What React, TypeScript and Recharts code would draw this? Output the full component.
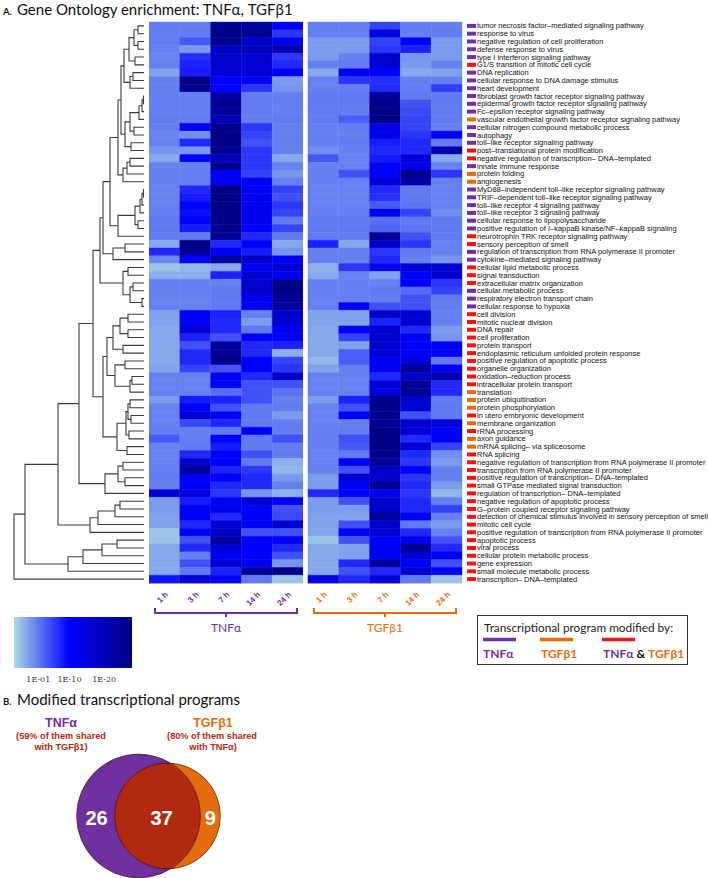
import React from 'react';
import { BarChart, Bar, Cell, XAxis, YAxis, LineChart, Line, ScatterChart, Scatter } from 'recharts';

// Colours
const PURPLE = '#7030a0';
const ORANGE = '#e46c0a';
const RED = '#f01414';
const LENS = '#b32a12';
const SANS = '"Liberation Sans", Arial, sans-serif';
const TITLE_FONT = 'Lato, "Open Sans", sans-serif';

// ---- data ----
const treatments = ['TNFα', 'TGFβ1'];
const timePoints = ['1 h', '3 h', '7 h', '14 h', '24 h'];

const goTerms = [
  'tumor necrosis factor–mediated signaling pathway',
  'response to virus',
  'negative regulation of cell proliferation',
  'defense response to virus',
  'type I interferon signaling pathway',
  'G1/S transition of mitotic cell cycle',
  'DNA replication',
  'cellular response to DNA damage stimulus',
  'heart development',
  'fibroblast growth factor receptor signaling pathway',
  'epidermal growth factor receptor signaling pathway',
  'Fc–epsilon receptor signaling pathway',
  'vascular endothelial growth factor receptor signaling pathway',
  'cellular nitrogen compound metabolic process',
  'autophagy',
  'toll–like receptor signaling pathway',
  'post–translational protein modification',
  'negative regulation of transcription– DNA–templated',
  'innate immune response',
  'protein folding',
  'angiogenesis',
  'MyD88–independent toll–like receptor signaling pathway',
  'TRIF–dependent toll–like receptor signaling pathway',
  'toll–like receptor 4 signaling pathway',
  'toll–like receptor 3 signaling pathway',
  'cellular response to lipopolysaccharide',
  'positive regulation of I–kappaB kinase/NF–kappaB signaling',
  'neurotrophin TRK receptor signaling pathway',
  'sensory perception of smell',
  'regulation of transcription from RNA polymerase II promoter',
  'cytokine–mediated signaling pathway',
  'cellular lipid metabolic process',
  'signal transduction',
  'extracellular matrix organization',
  'cellular metabolic process',
  'respiratory electron transport chain',
  'cellular response to hypoxia',
  'cell division',
  'mitotic nuclear division',
  'DNA repair',
  'cell proliferation',
  'protein transport',
  'endoplasmic reticulum unfolded protein response',
  'positive regulation of apoptotic process',
  'organelle organization',
  'oxidation–reduction process',
  'intracellular protein transport',
  'translation',
  'protein ubiquitination',
  'protein phosphorylation',
  'in utero embryonic development',
  'membrane organization',
  'rRNA processing',
  'axon guidance',
  'mRNA splicing– via spliceosome',
  'RNA splicing',
  'negative regulation of transcription from RNA polymerase II promoter',
  'transcription from RNA polymerase II promoter',
  'positive regulation of transcription– DNA–templated',
  'small GTPase mediated signal transduction',
  'regulation of transcription– DNA–templated',
  'negative regulation of apoptotic process',
  'G–protein coupled receptor signaling pathway',
  'detection of chemical stimulus involved in sensory perception of smell',
  'mitotic cell cycle',
  'positive regulation of transcription from RNA polymerase II promoter',
  'apoptotic process',
  'viral process',
  'cellular protein metabolic process',
  'gene expression',
  'small molecule metabolic process',
  'transcription– DNA–templated',
];

// T = modified by TNFα only, G = TGFβ1 only, B = both
const termProgram = [
  'TTTTTBTTTT', 'TTGTTTBBTG', 'GTTTTTTBBT', 'TBBBTTTBBB',
  'BBBBBBBGGG', 'BGBGGBBBBB', 'BBBBBBBBBB', 'BB',
].join('').split('');

// enrichment score (-log10 p), one row per GO term, columns = time points
const tnfScores = [
  [0.8, 0.6, 25, 24, 10], [0.6, 0.8, 26, 25, 6], [0.8, 3.5, 26, 18, 12], [0.6, -1.5, 18, 20, 22],
  [0.3, 6.5, 18, 17, 6], [0.5, 7.5, 17, 16, 7], [-2, 8, 16, 16, 11], [0.5, 27, 11, 11, -1.5],
  [0.6, 26, 10, 6, -1], [0.6, 0.6, 23, 0.8, 0.6], [0.6, 0.6, 25, 0.8, 0.6], [0.6, 0.6, 24, 0.8, 0.6],
  [0.8, 0.8, 20, 0.8, 0.8], [0.5, 11, 26, 6, 0.5], [0.3, -0.5, 27, 5, 0.5], [0.5, 7, 27, 4, 0.5],
  [-1, -1, 25, 6, 0.5], [-2.5, 11, 20, 6, -2.5], [0.5, 0.5, 26, 6, 0.5], [0.5, 0.5, 11, 5, -1],
  [0.5, 0.5, 12, 11, 0.5], [0.5, 7, 27, 11, 5], [0.5, 8, 27, 12, 4], [0.5, 10, 27, 12, 6],
  [0.5, 9, 27, 12, 5], [1, 10, 27, 12, 1], [1, 8, 26, 11, 5], [0.8, 1, 26, 7, 1],
  [-2.5, 27, 7, 10, -2.5], [7, 25, 11, 8, -1], [0, 11, 24, 18, 11], [-4.5, -3.5, -2.5, 11, 16],
  [-3, -3, 7.5, 16, 11], [0.5, 0.5, 0.5, 17, 26], [0.5, 0.5, 1, 17, 27], [0.5, 0.5, 1, 12, 25],
  [0.5, 0.5, 1, 11, 24], [-2, 11, 7.5, 0.5, 17], [-2, 11, 7, -1.5, 17], [-2.5, 16, 7, 1, 11],
  [-2.5, 7.5, 4, 11, 11], [-2.5, 4, 24, 7, 7.5], [-2.5, 7, 25, 7, -3], [-2.5, 7, 26, 10, 5],
  [-2, 5, 4, 11, 6], [0.5, 0.5, 12, 7, 18], [0.5, 0.5, 11, 4, 4], [0.5, 0.5, 2, 4, 1.5],
  [-1.5, 8, 7.5, 4, 0.5], [0.5, 11, 4, 1, 0.8], [0.5, 16, 11, 1, -1.5], [0.5, 4.5, 7, 1, 0.8],
  [0.8, 0.5, 1, 11, 0.8], [3.5, 0.5, 11, 1, 4], [0.5, 1, 8, 1, 0.8], [0.5, 7, 10, 4, 1],
  [0.5, 17, 11, 1, -3], [0.5, 24, 7.5, 6, -3.5], [0.8, 11, 11, 7, -1.5], [0.5, 11, 7, 7, 0.5],
  [16, 15, 6, -1, -3], [-1.5, 8, 11, 17, 11], [-1.5, 11, 12, 11, 4], [-2, 11, 7, 11, 4.5],
  [-2, 7, 16, 11, 16], [-4.5, 11, 17, 4, 4], [-4.5, 4, 23, 11, 11], [-2.5, 7, 17, 11, 7],
  [-2.5, 0.5, 11, 11, 4], [-2.5, 4, 17, 11, -1], [-2.5, 1, 7.5, 25, 27], [8.5, 16, 11, 1, -4.5],
];

const tgfScores = [
  [0.7, 0.5, 5, 0.8, 0.6], [0.6, 0.6, 14, 0.7, 0.8], [-1.5, -1.5, 5, 11, -1.5], [-1.5, -1.5, 6, 7.5, -1.5],
  [-1.5, 0.5, 17, -1, -1.5], [0.5, 0.8, 16, -1.5, 0.5], [-2.5, 11, 10, -2.5, -2], [0.5, 6, 6.5, 0.5, 0.5],
  [0.5, 0.6, 7, 0.6, 5.5], [1, 1, 24, 1, 1], [1, 1, 26, 4, 1], [0.8, 0.8, 27, 4.5, 0.8],
  [0.8, 3, 28, 5, 0.8], [0.5, 0.8, 12, 5, 0.5], [0.5, 0.5, 14, 6, 12], [0.5, 0.8, 8, 7, 0.8],
  [-0.5, 0.5, 7, 7, 22], [3.5, 0.5, 8, 16, -2.5], [0.5, 0.5, 11, 12, 0.5], [0.5, 4, 10, 26, 6],
  [0.5, 0.5, 16, 22, 0.5], [0.5, 0.5, 7, 1, 0.5], [0.5, 0.5, 6.5, 1, 0.5], [0.5, 0.5, 3.5, 1.5, 0.5],
  [0.5, 0.5, 11, 5, -0.5], [1, 1, 2, 1, 1], [1, 1, 2.5, 1.5, 1], [0.8, 0.8, 25, 4, 0.8],
  [7.5, -2.5, 18, 6, 0.5], [0.5, 0.5, 6, 1, 0.5], [0.5, 0.5, 7, 0.5, -1], [-3, 6, 11, 16, 16],
  [-2.5, 0.5, -2, 11, 17], [0.5, 0.5, 0.5, 10, 6], [0.5, 0.5, 1, 2, 5], [0.5, 0.5, 0.8, 4, 1],
  [0.5, 11, 4, 4, 0.8], [-2, -2, 17, 16, 0.5], [-2, -2, 7.5, 17, 0.5], [-2.5, 11, 17, 7, -1.5],
  [-2.5, 5, 17, 11, -1], [-2.5, -2, 17, 11, 11], [-2.5, 3, 16, 11, 11], [-3.5, 3, 11, 15, 1],
  [-2, 0.5, 11, 25, 11], [0.5, 0.5, 7, 17, 22], [0.5, 0.5, 15, 25, 7], [0.5, 0.5, 14, 25, 7],
  [-1.5, 7.5, 27, 17, 0.8], [0.5, 4, 26, 16, 1], [0.5, 11, 26, 4, 1], [0.5, 0.5, 25, 17, 15],
  [0.5, 0.8, 27, 16, 11], [0.5, 4, 27, 7, 11], [0.5, 3.5, 27, 16, 5], [0.5, 1, 26, 7, -0.5],
  [0.5, 11, 25, 6, -1.5], [0.5, 4, 18, 11, 0.5], [-1.5, 17, 17, 6, 0.5], [-1.5, 11, 26, 7, -1.5],
  [7, 11, 12, 6, -3.5], [-1.5, 4, 18, 7, 0.5], [-1.5, -1.5, 17, 7, 5], [-2, -2, 24, 11, 0.5],
  [-2, 4, 17, 1, -1.5], [-2, 11, 16, 7, 0.5], [-4.5, 4, 11, 12, 4], [-2.5, -2, 11, 25, 7],
  [-2.5, -2, 11, 17, 11], [-2.5, 7, 24, 11, 4], [-2.5, 4, 7, 17, 11], [15, 7, 16, 1, -4.5],
];

// colour bar ticks (-log10 p)
const colorbarTicks = [1, 10, 20];

// row dendrogram: [left, right, height], leaves are row indices
type TreeNode = number | [TreeNode, TreeNode, number];
const clusterA: TreeNode = [[[[0, 1, 6], [2, 3, 6], 10], [4, 5, 9], 15], [[6, 7, 11], 8, 14], 20];
const clusterB: TreeNode = [[[[[9, 10, 0.5], 11, 2], 12, 5], [13, 14, 10], 14], [15, 16, 13], 19];
const clusterC: TreeNode = [[[17, 18, 14], 19, 17], 20, 21];
const clusterD: TreeNode = [[[[[21, 22, 0.5], 23, 2], 24, 4], [25, 26, 6], 9], 27, 26];
const clusterF: TreeNode = [[28, 29, 19], 30, 31];
const clusterE: TreeNode = [[31, 32, 16], [[33, 34, 11], [35, 36, 2], 14], 21];
const clusterG1: TreeNode = [[[[37, 38, 16], [39, 40, 16], 24], [41, 42, 21], 31], [[43, 44, 19], [[45, 46, 12], 47, 14], 29], 37];
const clusterG2: TreeNode = [[[[48, 49, 14], [50, 51, 13], 16], [52, 53, 15], 18], [54, 55, 17], 27];
const clusterH: TreeNode = [[[56, 57, 21], [58, 59, 19], 26], 60, 39];
const clusterI: TreeNode = [[[[61, 62, 24], 63, 29], 64, 46], 65, 54];
const clusterJ: TreeNode = [[[[66, 67, 27], 68, 42], 69, 61], 70, 76];
const upper: TreeNode = [[[[[clusterA, clusterB, 23], clusterC, 26], clusterD, 34], clusterF, 41], clusterE, 44];
const middle: TreeNode = [[[upper, [clusterG1, clusterG2, 41], 51], clusterH, 65], clusterI, 86];
const dendrogram: TreeNode = [[middle, clusterJ, 119], 71, 130];

// Venn counts: TNFα only, shared, TGFβ1 only
const vennCounts = [26, 37, 9];

// ---- scales / derived ----
const SCORE_MIN = -6;
const SCORE_MID = 10;
const SCORE_MAX = 28;
const C_LOW = [173, 216, 230];
const C_MID = [0, 0, 255];
const C_HIGH = [0, 0, 128];
const mix = (a: number[], b: number[], t: number) =>
  `rgb(${a.map((v, i) => Math.round(v + (b[i] - v) * t)).join(',')})`;
const colorScale = (v: number) => {
  const s = Math.max(SCORE_MIN, Math.min(SCORE_MAX, v));
  if (s <= SCORE_MID) return mix(C_LOW, C_MID, (s - SCORE_MIN) / (SCORE_MID - SCORE_MIN));
  return mix(C_MID, C_HIGH, (s - SCORE_MID) / (SCORE_MAX - SCORE_MID));
};

const programColor: Record<string, string> = { T: PURPLE, G: ORANGE, B: RED };

const N_TIME = timePoints.length;
const GAP = 0.16;
const CHART_H = 645;
const PLOT_TOP = 22;
const PLOT_BOTTOM = 583;
const TIME_AXIS_H = 24;
const HEAT_W = 313;
const CELL_PX = HEAT_W / (2 * N_TIME + GAP);

const heatRows = goTerms.map((term) => {
  const r: Record<string, any> = { term, gap: GAP };
  for (let j = 0; j < 2 * N_TIME; j++) r['c' + j] = 1;
  return r;
});
const cellScore = (row: number, col: number) =>
  col < N_TIME ? tnfScores[row][col] : tgfScores[row][col - N_TIME];

const timeTicks = Array.from({ length: 2 * N_TIME }, (_, j) => j + 0.5 + (j >= N_TIME ? GAP : 0));

const dendroPoints: { d: number; row: number | null }[] = [];
const walk = (node: TreeNode): { y: number; h: number } => {
  if (typeof node === 'number') return { y: node + 0.5, h: 0 };
  const a = walk(node[0]);
  const b = walk(node[1]);
  const h = node[2];
  dendroPoints.push({ d: a.h, row: a.y }, { d: h, row: a.y }, { d: h, row: b.y }, { d: b.h, row: b.y }, { d: h, row: null });
  return { y: (a.y + b.y) / 2, h };
};
walk(dendrogram);

// ---- ticks ----
const TermTick = (props: any) => {
  const { x, y, payload } = props;
  const idx = goTerms.indexOf(payload.value);
  return (
    <g>
      <rect x={x + 5} y={y - 2} width={9} height={4} fill={programColor[termProgram[idx]]} />
      <text x={x + 15} y={y} dy="0.34em" fontSize={7.5} fontFamily={SANS} fill="#111">
        {payload.value}
      </text>
    </g>
  );
};

const TimeTick = (props: any) => {
  const { x, y, payload } = props;
  const idx = timeTicks.indexOf(payload.value);
  const grp = idx < N_TIME ? 0 : 1;
  const color = grp === 0 ? PURPLE : ORANGE;
  const ax = x + 4;
  const ay = y + 12;
  const half = 2.5 * CELL_PX - 6;
  return (
    <g>
      <text x={ax} y={ay} transform={`rotate(-45 ${ax} ${ay})`} textAnchor="end" fontSize={8}
        fontWeight="bold" fontFamily={SANS} fill={color}>
        {timePoints[idx % N_TIME]}
      </text>
      {idx % N_TIME === 2 && (
        <g>
          <path d={`M${x - half},${y + 25} V${y + 30} H${x + half} V${y + 25} M${x},${y + 30} V${y + 34}`}
            stroke={color} strokeWidth={2} fill="none" />
          <text x={x} y={y + 49} textAnchor="middle" fontSize={12} fontFamily={TITLE_FONT} fill={color}>
            {treatments[grp]}
          </text>
        </g>
      )}
    </g>
  );
};

// ---- Venn ----
const VENN_TOP = 700;
const R_K = 7.8;
const tnfTotal = vennCounts[0] + vennCounts[1];
const tgfTotal = vennCounts[1] + vennCounts[2];
const r1 = R_K * Math.sqrt(tnfTotal);
const r2 = R_K * Math.sqrt(tgfTotal);
const VC_X = 138.5;
const VC_Y = 116;
const VDIST = 29;
const vennShapes = [
  { x: VC_X, y: VC_Y, kind: 'tnf' },
  { x: VC_X + VDIST, y: VC_Y, kind: 'tgf' },
  { x: VC_X, y: VC_Y, kind: 'lens' },
];
const lensLeft = VC_X + VDIST - r2;
const lensRight = VC_X + r1;
const vennNumbers = [
  { x: (VC_X - r1 + lensLeft) / 2 + 1, y: VC_Y + 9, label: vennCounts[0] },
  { x: (lensLeft + lensRight) / 2 + 4, y: VC_Y + 9, label: vennCounts[1] },
  { x: (lensRight + VC_X + VDIST + r2) / 2, y: VC_Y + 9, label: vennCounts[2] },
];

const VennShape = (props: any) => {
  const { cx, cy, payload } = props;
  const edge = 'rgba(50,20,30,0.75)';
  if (payload.kind === 'tnf') return <circle cx={cx} cy={cy} r={r1} fill={PURPLE} stroke={edge} strokeWidth={0.8} />;
  if (payload.kind === 'tgf') return <circle cx={cx} cy={cy} r={r2} fill={ORANGE} stroke={edge} strokeWidth={0.8} />;
  const a = (VDIST * VDIST + r1 * r1 - r2 * r2) / (2 * VDIST);
  const h = Math.sqrt(r1 * r1 - a * a);
  const px = cx + a;
  const large1 = a < 0 ? 1 : 0;
  const large2 = a > VDIST ? 1 : 0;
  const d = `M${px},${cy - h} A${r1},${r1} 0 ${large1} 1 ${px},${cy + h} A${r2},${r2} 0 ${large2} 1 ${px},${cy - h} Z`;
  return <path d={d} fill={LENS} stroke={edge} strokeWidth={0.8} />;
};

const VennNumber = (props: any) => {
  const { cx, cy, payload } = props;
  return (
    <text x={cx} y={cy} textAnchor="middle" fontSize={20} fontWeight="bold" fontFamily={SANS} fill="#fff">
      {payload.label}
    </text>
  );
};

const pctTnfShared = Math.round((vennCounts[1] / tnfTotal) * 100);
const pctTgfShared = Math.round((vennCounts[1] / tgfTotal) * 100);

export default function App() {
  return (
    <div style={{ position: 'absolute', left: 0, top: 0, width: 708, height: 878, background: '#fff', overflow: 'hidden' }}>
      {/* dendrogram */}
      <div style={{ position: 'absolute', left: 0, top: 0 }}>
        <LineChart width={149} height={CHART_H} data={dendroPoints}
          margin={{ top: PLOT_TOP, bottom: CHART_H - PLOT_BOTTOM, left: 14, right: 5 }}>
          <XAxis type="number" dataKey="d" domain={[0, 130]} reversed hide />
          <YAxis type="number" domain={[0, goTerms.length]} reversed hide />
          <Line dataKey="row" stroke="#3c3c3c" strokeWidth={1.1} dot={false} isAnimationActive={false} connectNulls={false} />
        </LineChart>
      </div>

      {/* heatmap */}
      <div style={{ position: 'absolute', left: 149, top: 0 }}>
        <BarChart layout="vertical" width={559} height={CHART_H} data={heatRows} barCategoryGap={0}
          margin={{ top: PLOT_TOP, bottom: CHART_H - PLOT_BOTTOM - TIME_AXIS_H, left: 0, right: 0 }}>
          <XAxis type="number" domain={[0, 2 * N_TIME + GAP]} ticks={timeTicks} interval={0} height={TIME_AXIS_H}
            axisLine={false} tickLine={false} tickSize={0} tickMargin={0} tick={<TimeTick />} />
          <YAxis type="category" dataKey="term" orientation="right" width={559 - HEAT_W} interval={0}
            axisLine={false} tickLine={false} tickSize={0} tickMargin={0} tick={<TermTick />} />
          {Array.from({ length: 2 * N_TIME + 1 }, (_, k) => {
            if (k === N_TIME) {
              return <Bar key="gap" dataKey="gap" stackId="h" fill="#fff" isAnimationActive={false} />;
            }
            const col = k < N_TIME ? k : k - 1;
            return (
              <Bar key={'c' + col} dataKey={'c' + col} stackId="h" isAnimationActive={false}>
                {heatRows.map((_, i) => {
                  const f = colorScale(cellScore(i, col));
                  return <Cell key={i} fill={f} stroke={f} strokeWidth={0.4} />;
                })}
              </Bar>
            );
          })}
        </BarChart>
      </div>

      {/* colour bar */}
      <div style={{ position: 'absolute', left: 0, top: 610 }}>
        <BarChart layout="vertical" width={146} height={80} data={[{ name: 'p', range: [SCORE_MIN, SCORE_MAX] }]}
          barCategoryGap={0} margin={{ top: 7, bottom: 0, left: 14, right: 14 }}>
          <defs>
            <linearGradient id="cbar" x1="0" y1="0" x2="1" y2="0">
              <stop offset="0" stopColor={colorScale(SCORE_MIN)} />
              <stop offset={(SCORE_MID - SCORE_MIN) / (SCORE_MAX - SCORE_MIN)} stopColor={colorScale(SCORE_MID)} />
              <stop offset="1" stopColor={colorScale(SCORE_MAX)} />
            </linearGradient>
          </defs>
          <XAxis type="number" domain={[SCORE_MIN, SCORE_MAX]} ticks={colorbarTicks} interval={0} height={22}
            axisLine={false} tickLine={false} tickFormatter={(v: number) => '1E-' + String(v).padStart(2, '0')}
            tick={{ fontSize: 8, fontFamily: '"DejaVu Serif", serif', fill: '#333' }} />
          <YAxis type="category" dataKey="name" hide />
          <Bar dataKey="range" fill="url(#cbar)" isAnimationActive={false} />
        </BarChart>
      </div>

      {/* Venn */}
      <div style={{ position: 'absolute', left: 0, top: VENN_TOP }}>
        <ScatterChart width={260} height={178} margin={{ top: 0, right: 0, bottom: 0, left: 0 }}>
          <XAxis type="number" dataKey="x" domain={[0, 260]} hide />
          <YAxis type="number" dataKey="y" domain={[0, 178]} reversed hide />
          <Scatter data={vennShapes} shape={VennShape} isAnimationActive={false} />
          <Scatter data={vennNumbers} shape={VennNumber} isAnimationActive={false} />
        </ScatterChart>
      </div>

      {/* titles, legend, captions */}
      <svg width={708} height={878} style={{ position: 'absolute', left: 0, top: 0, pointerEvents: 'none' }}>
        <text x={3} y={15} fontFamily={TITLE_FONT} fill="#111">
          <tspan fontSize={9.5} fontWeight="bold">A.</tspan>
          <tspan x={17} fontSize={15}>Gene Ontology enrichment: TNFα, TGFβ1</tspan>
        </text>
        <text x={3} y={705} fontFamily={TITLE_FONT} fill="#111">
          <tspan fontSize={9.5} fontWeight="bold">B.</tspan>
          <tspan x={17} fontSize={15}>Modified transcriptional programs</tspan>
        </text>

        <rect x={477.5} y={615.5} width={210} height={49} fill="#fff" stroke="#333" strokeWidth={1} />
        <text x={484} y={632} fontSize={11.8} fontFamily={TITLE_FONT} fill="#222">Transcriptional program modified by:</text>
        <line x1={483} x2={516} y1={639.5} y2={639.5} stroke={PURPLE} strokeWidth={3.5} />
        <line x1={540} x2={573} y1={639.5} y2={639.5} stroke={ORANGE} strokeWidth={3.5} />
        <line x1={602} x2={635} y1={639.5} y2={639.5} stroke={RED} strokeWidth={3.5} />
        <text y={658} fontSize={12} fontWeight="bold" fontFamily={TITLE_FONT}>
          <tspan x={483} fill={PURPLE}>{treatments[0]}</tspan>
          <tspan x={541} fill={ORANGE}>{treatments[1]}</tspan>
          <tspan x={603} fill={PURPLE}>{treatments[0]}</tspan>
          <tspan fill="#111"> &amp; </tspan>
          <tspan fill={ORANGE}>{treatments[1]}</tspan>
        </text>

        <g fontFamily={SANS} fontWeight="bold" textAnchor="middle">
          <text x={61} y={727} fontSize={12.5} fill={PURPLE}>{treatments[0]}</text>
          <text x={61} y={739} fontSize={9.2} fill={LENS}>({pctTnfShared}% of them shared</text>
          <text x={61} y={750} fontSize={9.2} fill={LENS}>with {treatments[1]})</text>
          <text x={213} y={727} fontSize={12.5} fill={ORANGE}>{treatments[1]}</text>
          <text x={212} y={739} fontSize={9.2} fill={LENS}>({pctTgfShared}% of them shared</text>
          <text x={213} y={750} fontSize={9.2} fill={LENS}>with {treatments[0]})</text>
        </g>
      </svg>
    </div>
  );
}
